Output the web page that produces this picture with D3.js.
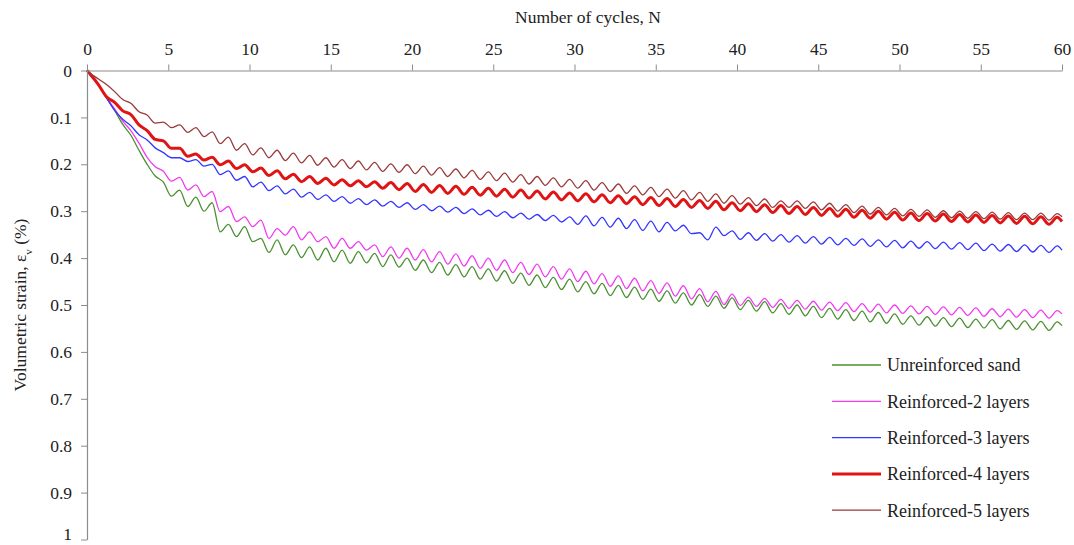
<!DOCTYPE html>
<html>
<head>
<meta charset="utf-8">
<script src="https://cdn.jsdelivr.net/npm/d3@7"></script>
<style>
  body { margin: 0; background: #fff; }
  svg { font-family: "Liberation Serif", "Times New Roman", serif; }
  .axis path, .axis line { stroke: #8c8c8c; }
  .axis text { font-family: "Liberation Serif", serif; font-size: 17.5px; fill: #222; }
</style>
</head>
<body>
<script>
// cycle ticks and strain ticks
var xTicks = [0, 5, 10, 15, 20, 25, 30, 35, 40, 45, 50, 55, 60];
var yTicks = [0, 0.1, 0.2, 0.3, 0.4, 0.5, 0.6, 0.7, 0.8, 0.9, 1];

var seriesNames = ["Unreinforced sand", "Reinforced-2 layers", "Reinforced-3 layers",
                   "Reinforced-4 layers", "Reinforced-5 layers"];

// values: strain (%) at the bottom of each wiggle (N = k + 0.2)
// and at the top of each wiggle (N = k + 0.7), k = 0..59, plus value at N = 60
var greenHi = [.010,.059,.115,.170,.225,.268,.290,.300,.344,.354,.365,.388,.393,.399,.404,.408,.411,.410,.418,.419,
               .426,.431,.436,.440,.445,.449,.454,.458,.463,.467,.472,.476,.480,.484,.488,.492,.496,.500,.503,.507,
               .510,.513,.517,.520,.523,.527,.530,.533,.536,.539,.541,.543,.545,.546,.548,.549,.551,.552,.553,.554];
var greenLo = [.030,.085,.138,.200,.238,.255,.270,.282,.328,.333,.358,.361,.372,.376,.379,.383,.386,.390,.393,.400,
               .404,.409,.414,.418,.423,.427,.432,.436,.441,.445,.450,.454,.458,.462,.466,.470,.474,.478,.481,.485,
               .490,.493,.497,.500,.503,.507,.510,.513,.516,.519,.523,.525,.527,.528,.530,.531,.533,.534,.535,.536];
var greenEnd = .544;

var magentaHi = [.008,.058,.108,.155,.205,.236,.255,.269,.301,.322,.333,.358,.351,.361,.365,.379,.379,.383,.397,.400,
                 .404,.408,.413,.417,.422,.426,.431,.435,.440,.445,.450,.455,.460,.465,.470,.475,.481,.487,.493,.499,
                 .501,.503,.505,.507,.509,.511,.512,.514,.515,.517,.518,.519,.520,.521,.522,.524,.525,.526,.527,.528];
var magentaLo = [.030,.082,.128,.185,.215,.228,.244,.258,.290,.312,.319,.337,.333,.344,.354,.358,.365,.372,.376,.379,
                 .382,.386,.391,.395,.400,.404,.409,.413,.418,.423,.428,.433,.438,.443,.448,.453,.459,.465,.471,.477,
                 .483,.486,.488,.490,.492,.494,.495,.497,.498,.500,.502,.503,.504,.505,.506,.508,.509,.510,.511,.512];
var magentaEnd = .519;

var blueHi = [.008,.058,.104,.137,.165,.186,.194,.204,.222,.234,.248,.256,.263,.270,.275,.279,.283,.286,.289,.292,
              .296,.299,.302,.305,.308,.311,.314,.317,.320,.323,.328,.331,.334,.337,.341,.344,.342,.348,.361,.352,
              .360,.362,.364,.366,.368,.370,.372,.373,.375,.376,.378,.379,.380,.381,.382,.384,.385,.386,.387,.388];
var blueLo = [.030,.085,.118,.148,.175,.186,.190,.200,.214,.226,.238,.246,.253,.260,.265,.269,.273,.276,.279,.282,
              .286,.289,.292,.295,.298,.301,.304,.307,.309,.312,.310,.313,.315,.318,.321,.324,.330,.346,.334,.342,
              .346,.348,.350,.352,.354,.356,.358,.359,.361,.362,.364,.365,.366,.367,.368,.370,.371,.372,.373,.374];
var blueEnd = .383;

var redHi = [.008,.056,.086,.116,.147,.166,.183,.191,.201,.209,.216,.224,.231,.237,.241,.244,.246,.248,.251,.254,
             .258,.260,.262,.264,.266,.268,.270,.272,.274,.276,.278,.280,.282,.284,.286,.288,.290,.292,.294,.297,
             .299,.301,.303,.305,.307,.309,.311,.313,.315,.317,.319,.320,.321,.322,.323,.324,.325,.326,.327,.328];
var redLo = [.030,.068,.094,.128,.150,.166,.178,.185,.193,.201,.208,.214,.221,.226,.230,.233,.235,.237,.239,.241,
             .243,.245,.247,.249,.251,.253,.255,.257,.259,.261,.263,.265,.267,.269,.271,.273,.275,.277,.279,.282,
             .284,.286,.288,.290,.292,.294,.296,.298,.300,.302,.304,.305,.306,.307,.308,.309,.310,.311,.312,.313];
var redEnd = .322;

var brownHi = [.006,.030,.062,.088,.112,.122,.132,.141,.156,.170,.180,.186,.192,.197,.202,.206,.209,.212,.215,.217,
               .220,.223,.226,.229,.232,.235,.238,.242,.245,.248,.251,.255,.258,.262,.265,.269,.272,.276,.279,.283,
               .285,.288,.292,.292,.294,.297,.300,.303,.306,.308,.310,.311,.313,.314,.315,.316,.317,.318,.318,.319];
var brownLo = [.018,.045,.070,.095,.110,.116,.122,.131,.142,.156,.165,.170,.176,.181,.186,.190,.193,.196,.199,.201,
               .204,.207,.210,.213,.216,.219,.222,.226,.229,.232,.235,.239,.242,.246,.249,.253,.256,.260,.263,.267,
               .271,.274,.278,.278,.280,.283,.286,.289,.292,.294,.296,.297,.299,.300,.301,.302,.303,.304,.304,.305];
var brownEnd = .312;

var width = 1074, height = 545;

var svg = d3.select("body")
  .append("svg")
    .attr("width", width)
    .attr("height", height);

var xScale = d3.scaleLinear().domain([0, 60]).range([87, 1062]);
var yScale = d3.scaleLinear().domain([0, 1]).range([70.5, 539.5]);

// turn hi/lo lists into a point list along N
function toPoints(hi, lo, end) {
  var pts = [[0, 0]];
  for (var k = 0; k < hi.length; k++) {
    pts.push([k + 0.2, hi[k]]);
    pts.push([k + 0.7, lo[k]]);
  }
  pts.push([60, end]);
  return pts;
}

var series = [
  {name: seriesNames[0], color: "#4b9032", w: 1.3, pts: toPoints(greenHi, greenLo, greenEnd)},
  {name: seriesNames[1], color: "#f03cf0", w: 1.3, pts: toPoints(magentaHi, magentaLo, magentaEnd)},
  {name: seriesNames[2], color: "#3535ff", w: 1.3, pts: toPoints(blueHi, blueLo, blueEnd)},
  {name: seriesNames[3], color: "#e01414", w: 3, pts: toPoints(redHi, redLo, redEnd)},
  {name: seriesNames[4], color: "#9a3a3a", w: 1.3, pts: toPoints(brownHi, brownLo, brownEnd)}
];

var line = d3.line()
  .x(function(d) { return xScale(d[0]); })
  .y(function(d) { return yScale(d[1]); })
  .curve(d3.curveMonotoneX);

svg.selectAll(".series")
  .data(series)
  .enter()
  .append("path")
    .attr("class", "series")
    .attr("fill", "none")
    .attr("stroke", function(d) { return d.color; })
    .attr("stroke-width", function(d) { return d.w; })
    .attr("stroke-linejoin", "round")
    .attr("d", function(d) { return line(d.pts); });

// axes (x on top, y reversed on the left)
var x_axis = d3.axisTop(xScale)
  .tickValues(xTicks)
  .tickSize(6)
  .tickSizeOuter(0)
  .tickPadding(10)
  .tickFormat(d3.format("d"));

svg.append("g")
  .attr("class", "axis")
  .attr("transform", "translate(0," + yScale(0) + ")")
  .call(x_axis);

var y_axis = d3.axisLeft(yScale)
  .tickValues(yTicks)
  .tickSize(6)
  .tickSizeOuter(0)
  .tickPadding(9)
  .tickFormat(function(d) { return (d === 0 || d === 1) ? String(d) : d3.format(".1f")(d); });

svg.append("g")
  .attr("class", "axis")
  .attr("transform", "translate(" + xScale(0) + ",0)")
  .call(y_axis)
  .selectAll("text")
    .filter(function(d) { return d === 1; })
    .attr("dy", "0.02em");   // keep the bottom label inside the frame

svg.selectAll(".axis .domain").attr("stroke-width", 1.2);

// titles
svg.append("text")
  .attr("x", 588)
  .attr("y", 23)
  .attr("text-anchor", "middle")
  .style("font-size", "17.5px")
  .style("fill", "#222")
  .text("Number of cycles, N");

var ylab = svg.append("text")
  .attr("transform", "translate(26,305) rotate(-90)")
  .attr("text-anchor", "middle")
  .style("font-size", "17.5px")
  .style("fill", "#222");
ylab.append("tspan").text("Volumetric strain, ε");
ylab.append("tspan").attr("baseline-shift", "sub").style("font-size", "11px").text("v");
ylab.append("tspan").text(" (%)");

// legend
var legend = svg.selectAll(".legend")
  .data(series)
  .enter()
  .append("g")
    .attr("class", "legend")
    .attr("transform", function(d, i) { return "translate(832," + (365 + i * 36.3) + ")"; });

legend.append("line")
  .attr("x1", 0).attr("x2", 49)
  .attr("stroke", function(d) { return d.color; })
  .attr("stroke-width", function(d) { return d.w; });

legend.append("text")
  .attr("x", 55)
  .attr("dy", "0.35em")
  .style("font-size", "18px")
  .style("fill", "#222")
  .text(function(d) { return d.name; });
</script>
</body>
</html>
